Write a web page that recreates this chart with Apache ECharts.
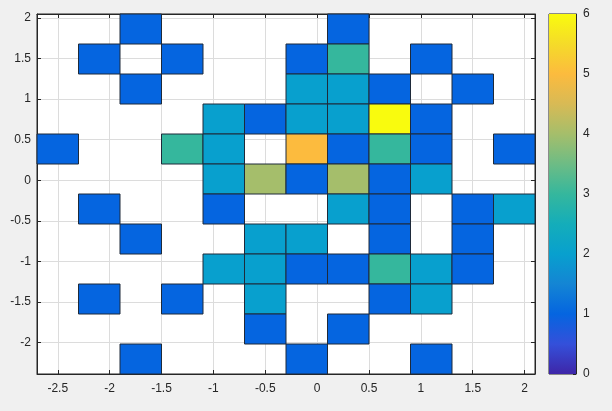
<!DOCTYPE html>
<html>
<head>
<meta charset="utf-8">
<script src="https://cdn.jsdelivr.net/npm/echarts@6/dist/echarts.min.js"></script>
<style>
html,body{margin:0;padding:0;background:#F0F0F0;}
#c{width:612px;height:411px;}
</style>
</head>
<body>
<div id="c"></div>
<script>
// Bin edges (x and y) of the 2-D histogram
const xEdges = [-2.7, -2.3, -1.9, -1.5, -1.1, -0.7, -0.3, 0.1, 0.5, 0.9, 1.3, 1.7, 2.1];
const yEdges = [-2.39, -2.02, -1.65, -1.28, -0.91, -0.54, -0.17, 0.20, 0.57, 0.94, 1.31, 1.68, 2.05];
// Counts, rows listed from the top bin (highest y) to the bottom bin; columns left to right
const counts = [
  [0,0,1,0,0,0,0,1,0,0,0,0],
  [0,1,0,1,0,0,1,3,0,1,0,0],
  [0,0,1,0,0,0,2,2,1,0,1,0],
  [0,0,0,0,2,1,2,2,6,1,0,0],
  [1,0,0,3,2,0,5,1,3,1,0,1],
  [0,0,0,0,2,4,1,4,1,2,0,0],
  [0,1,0,0,1,0,0,2,1,0,1,2],
  [0,0,1,0,0,2,2,0,1,0,1,0],
  [0,0,0,0,2,2,1,1,3,2,1,0],
  [0,1,0,1,0,2,0,0,1,2,0,0],
  [0,0,0,0,0,1,0,1,0,0,0,0],
  [0,0,1,0,0,0,1,0,0,1,0,0]
];
const xTicks = [-2.5, -2, -1.5, -1, -0.5, 0, 0.5, 1, 1.5, 2];
const yTicks = [-2, -1.5, -1, -0.5, 0, 0.5, 1, 1.5, 2];
const cbarMin = 0, cbarMax = 6;
const parula = ['#3E26A8','#3450DA','#0565E0','#1485D4','#08A0CE','#14ADBA','#35B79D','#6DBC85','#A5BE6B','#D8BA55','#FCBB3E','#F5DB29','#F9FB0E'];

const cells = [];
const nRows = counts.length;
counts.forEach((row, r) => {
  const yi = nRows - 1 - r;
  row.forEach((v, c) => {
    if (v > 0) cells.push([xEdges[c], xEdges[c+1], yEdges[yi], yEdges[yi+1], v]);
  });
});

const font = 'Liberation Sans, Arial, sans-serif';
const labelStyle = {color:'#262626', fontSize:12, fontFamily:font};
const axisLine = {show:true, onZero:false, lineStyle:{color:'#262626'}};
const chart = echarts.init(document.getElementById('c'));
chart.setOption({
  backgroundColor:'#F0F0F0',
  animation:false,
  grid:[
    {left:37, top:14, width:498, height:360, show:true, backgroundColor:'#FFFFFF', borderColor:'#262626', borderWidth:1},
    {left:549, top:14, width:27, height:360, show:true, backgroundColor:'#FFFFFF', borderColor:'#262626', borderWidth:1}
  ],
  xAxis:[
    {type:'value', gridIndex:0, min:xEdges[0], max:xEdges[xEdges.length-1], position:'bottom',
     axisLine:axisLine,
     axisTick:{show:true, inside:true, length:4, customValues:xTicks, lineStyle:{color:'#262626'}},
     axisLabel:{show:true, customValues:xTicks, margin:9, ...labelStyle},
     splitLine:{show:true, lineStyle:{color:'#DCDCDC', width:1}}},
    {type:'value', gridIndex:0, min:xEdges[0], max:xEdges[xEdges.length-1], position:'top',
     axisLine:axisLine,
     axisTick:{show:true, inside:true, length:4, customValues:xTicks, lineStyle:{color:'#262626'}},
     axisLabel:{show:false}, splitLine:{show:false}},
    {type:'category', gridIndex:1, data:['c'], show:false}
  ],
  yAxis:[
    {type:'value', gridIndex:0, min:yEdges[0], max:yEdges[yEdges.length-1], position:'left',
     axisLine:axisLine,
     axisTick:{show:true, inside:true, length:4, customValues:yTicks, lineStyle:{color:'#262626'}},
     axisLabel:{show:true, customValues:yTicks, margin:6, ...labelStyle},
     splitLine:{show:true, lineStyle:{color:'#DCDCDC', width:1}}},
    {type:'value', gridIndex:0, min:yEdges[0], max:yEdges[yEdges.length-1], position:'right',
     axisLine:axisLine,
     axisTick:{show:true, inside:true, length:4, customValues:yTicks, lineStyle:{color:'#262626'}},
     axisLabel:{show:false}, splitLine:{show:false}},
    {type:'value', gridIndex:1, min:cbarMin, max:cbarMax, interval:1, position:'right',
     axisLine:axisLine,
     axisTick:{show:true, inside:true, length:3, lineStyle:{color:'#262626'}},
     axisLabel:{show:true, margin:7, ...labelStyle},
     splitLine:{show:false}}
  ],
  visualMap:{show:false, type:'continuous', min:cbarMin, max:cbarMax, dimension:4, seriesIndex:0, inRange:{color:parula}},
  series:[
    {type:'custom', xAxisIndex:0, yAxisIndex:0, data:cells, encode:{x:[0,1], y:[2,3]},
     renderItem:function(params, api){
       const p0 = api.coord([api.value(0), api.value(3)]);
       const p1 = api.coord([api.value(1), api.value(2)]);
       return {type:'rect', shape:{x:p0[0], y:p0[1], width:p1[0]-p0[0], height:p1[1]-p0[1]},
               style:{fill:api.visual('color'), stroke:'#1E2A3A', lineWidth:1}};
     }},
    {type:'bar', xAxisIndex:2, yAxisIndex:2, data:[cbarMax], barWidth:'100%', silent:true,
     itemStyle:{color:new echarts.graphic.LinearGradient(0,1,0,0, parula.map((c,i)=>({offset:i/(parula.length-1), color:c})))}}
  ]
});
</script>
</body>
</html>
